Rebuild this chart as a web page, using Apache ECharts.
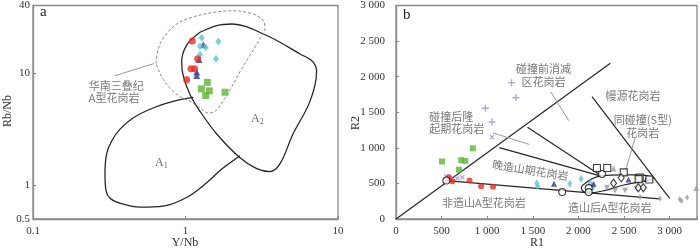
<!DOCTYPE html>
<html><head><meta charset="utf-8">
<script src="https://cdn.jsdelivr.net/npm/echarts@6/dist/echarts.min.js"></script>
<style>html,body{margin:0;padding:0;background:#fff}#c{width:700px;height:248px}</style>
</head><body><div id="c"></div>
<script>
// ---------- Panel a: Y/Nb vs Rb/Nb (log-log) ----------
const aRed   = [[1.108,19.3],[1.202,13.4],[1.087,10.9],[1.146,10.9],[1.018,8.7]];
const aCyan  = [[1.277,20.6],[1.641,19.1],[1.245,17.3],[1.357,16.9],[1.245,14.6],[1.585,13.4]];
const aBlue  = [[1.308,17.9],[1.226,13.2],[1.184,10.2],[1.184,9.5]];
const aGreen = [[1.39,8.26],[1.27,7.23],[1.432,6.94],[1.357,6.31],[1.816,6.75]];
const aFieldA2 = [[1.245,23.1],[1.602,26.5],[2.018,27.35],[3.408,21.6],[5.64,14.8],[6.85,12.58],[7.24,10.27],[6.55,5.59],[5.07,2.86],[4.17,1.556],[3.58,1.323],[2.93,1.406],[2.276,1.758],[1.602,2.86],[1.245,4.56],[1.07,6.44],[0.963,9.66],[0.944,12.58],[1.018,17.76],[1.245,23.1]];
const aFieldA1 = [[1.125,6.06],[0.828,5.59],[0.612,4.88],[0.453,3.98],[0.372,3.165],[0.328,2.48],[0.304,1.906],[0.2965,1.27],[0.301,0.90],[0.32,0.765],[0.372,0.692],[0.503,0.637],[0.712,0.65],[1.023,0.781],[1.384,1.058],[1.683,1.35],[2.049,1.654],[2.276,1.83]];
const aFieldSC = [[0.641,12.15],[0.663,16.47],[0.734,21.62],[0.876,27.35],[1.098,31.33],[1.521,34.68],[2.058,35.9],[2.784,33.5],[3.236,29.3],[3.322,24.7],[3.08,20.18],[2.649,14.41],[2.276,10.27],[1.958,7.08],[1.728,5.40],[1.561,4.56],[1.411,4.405],[1.245,4.88],[1.07,5.59],[0.92,6.18],[0.791,7.32],[0.698,9.28],[0.641,12.15]];
const aLeader = [[0.345,9.47],[0.621,12.15]];
const aXTicks = [0.1, 1, 10];
const aYTicks = [0.5, 1, 10, 40];
const aLabels = [
  {pos:[0.234,6.7], text:'华南三叠纪\nA型花岗岩', align:'left'},
  {pos:[0.70,1.556], text:'{n|A}{s|1}', align:'center'},
  {pos:[2.985,3.88], text:'{n|A}{s|2}', align:'center'}
];

// ---------- Panel b: R1 vs R2 ----------
const bPlus   = [[1267,1916],[1314,1704],[980,1556],[1053,1362]];
const bCross  = [[1053,1150],[552,596],[613,578],[672,572],[726,586]];
const bGreen  = [[505,808],[690,693],[715,827],[759,817],[842,993]];
const bRed    = [[580,585],[617,531],[806,540],[933,461],[1064,453]];
const bCyan   = [[1543,503],[1554,457],[1906,494],[2029,564],[2131,503],[2160,448]];
const bBlue   = [[1732,494],[2167,494],[2548,554],[2748,564]];
const bOpenCircle  = [[552,540],[1822,378],[2113,434],[2113,378],[2258,633]];
const bOpenSquare  = [[2203,716],[2316,716],[2497,655],[2672,582],[2777,554],[2660,560]];
const bOpenDiamond = [[2385,503],[2469,578],[2657,439],[2712,439]];
const bGrayTri  = [[2385,711],[3292,434]];
const bGrayInv  = [[2312,439],[2403,402],[2512,402],[2639,425]];
const bGraySmall = [[2894,287],[3111,277],[3130,254],[3191,301],[2676,309]];
const bLineDiag  = [[0,0],[2350,2190]];
const bLineUpper = [[1441,1289],[2258,600]];
const bLineLower = [[1133,1002],[2258,600]];
const bLineMantle = [[2149,1718],[3000,290]];
const bLineBottom = [[552,540],[2890,282]];
const bEllipse = [[2657,517],[2475,471],[2295,402],[2113,366],[2040,402],[2033,448],[2077,503],[2149,564],[2258,610],[2475,619],[2657,619],[2785,600],[2821,572],[2657,517]];
const bLeaders = [[[1696,1787],[1895,1381]],[[1060,1210],[1459,1049]],[[2621,1140],[2512,655]]];
const bXTicks = [0,500,1000,1500,2000,2500,3000];
const bYTicks = [0,500,1000,1500,2000,2500,3000];
const bLabels = [
  {pos:[1623,2009], text:'碰撞前消减\n区花岗岩', align:'center', rot:0},
  {pos:[2603,1728], text:'幔源花岗岩', align:'center', rot:0},
  {pos:[370,1344], text:'碰撞后隆\n起期花岗岩', align:'left', rot:0},
  {pos:[2712,1296], text:'同碰撞(S型)\n花岗岩', align:'center', rot:0},
  {pos:[1478,679], text:'晚造山期花岗岩', align:'center', rot:-9},
  {pos:[969,216], text:'非造山A型花岗岩', align:'center', rot:0},
  {pos:[2349,148], text:'造山后A型花岗岩', align:'center', rot:0}
];

const SERIF = 'Liberation Serif, Times New Roman, serif';
const CJK = 'Noto Sans CJK SC';
const AX = '#8a8a8a';
const fmtThousand = v => v >= 1000 ? Math.floor(v/1000) + ' ' + String(v % 1000).padStart(3,'0') : String(v);

function axisCommon(margin){
  return {
    axisLine:{show:true, lineStyle:{color:AX, width:1.3}},
    axisTick:{show:true, inside:true, length:3, lineStyle:{color:AX}},
    splitLine:{show:false},
    axisLabel:{color:'#333', fontFamily:SERIF, fontSize:11, margin:margin}
  };
}
function lineS(name, data, xi, opts){
  return Object.assign({type:'line', name, data, xAxisIndex:xi, yAxisIndex:xi, symbol:'none', silent:true,
    lineStyle:{color:'#262626', width:1.2}, z:2}, opts||{});
}
function scat(data, xi, symbol, size, color, extra){
  return Object.assign({type:'scatter', data, xAxisIndex:xi, yAxisIndex:xi, symbol, symbolSize:size,
    itemStyle:{color}, z:5}, extra||{});
}
function labelSeries(list, xi){
  return {type:'scatter', xAxisIndex:xi, yAxisIndex:xi, symbolSize:1, itemStyle:{color:'rgba(0,0,0,0)'}, z:6, silent:true,
    data: list.map(l => ({value:l.pos, label:{show:true, position:[0,0], formatter:l.text, align:l.align, verticalAlign:'middle',
      rotate:l.rot||0, color:'#555', fontFamily:CJK, fontSize:11, lineHeight:12.5,
      rich:{n:{fontFamily:SERIF, fontSize:12, color:'#444'}, s:{fontFamily:SERIF, fontSize:8, color:'#444', padding:[6,0,0,0]}}}}))};
}
const plusPath = 'path://M4,0h2v4h4v2h-4v4h-2v-4h-4v-2h4z';
const openStyle = {itemStyle:{color:'#ffffff', borderColor:'#111', borderWidth:1.1}, z:7};

const chart = echarts.init(document.getElementById('c'), null, {renderer:'canvas'});
chart.setOption({
  animation:false,
  backgroundColor:'#fff',
  grid:[
    {left:33, top:3, width:305, height:216, show:true, borderColor:AX, borderWidth:1.3, containLabel:false},
    {left:396, top:2.5, width:303, height:216.5, show:true, borderColor:AX, borderWidth:1.3, containLabel:false}
  ],
  xAxis:[
    Object.assign({type:'log', gridIndex:0, min:aXTicks[0], max:aXTicks[2], logBase:10}, axisCommon(7),
      {axisLabel:{color:'#333', fontFamily:SERIF, fontSize:11, margin:7, formatter:v=>String(+(+v).toPrecision(2))}}),
    Object.assign({type:'value', gridIndex:1, min:0, max:3300, interval:500}, axisCommon(7),
      {axisLabel:{color:'#333', fontFamily:SERIF, fontSize:11, margin:7, formatter:v=> v>3000?'':fmtThousand(v)}})
  ],
  yAxis:[
    Object.assign({type:'log', gridIndex:0, min:aYTicks[0], max:aYTicks[3], logBase:10}, axisCommon(3),
      {axisLabel:{color:'#333', fontFamily:SERIF, fontSize:11, margin:3, formatter:v=>String(+(+v).toPrecision(2))}}),
    Object.assign({type:'value', gridIndex:1, min:0, max:3000, interval:500}, axisCommon(11),
      {axisLabel:{color:'#333', fontFamily:SERIF, fontSize:11, margin:11, formatter:fmtThousand}})
  ],
  graphic:[
    {type:'text', left:40, top:5, style:{text:'a', font:'15px '+SERIF, fill:'#222'}},
    {type:'text', left:403, top:8, style:{text:'b', font:'15px '+SERIF, fill:'#222'}},
    {type:'text', x:8, y:111, rotation:Math.PI/2, style:{text:'Rb/Nb', font:'12px '+SERIF, fill:'#333', align:'center', verticalAlign:'middle'}},
    {type:'text', x:185, y:243, style:{text:'Y/Nb', font:'12px '+SERIF, fill:'#333', align:'center', verticalAlign:'middle'}},
    {type:'text', x:356, y:123, rotation:Math.PI/2, style:{text:'R2', font:'12px '+SERIF, fill:'#333', align:'center', verticalAlign:'middle'}},
    {type:'text', x:537, y:243, style:{text:'R1', font:'12px '+SERIF, fill:'#333', align:'center', verticalAlign:'middle'}}
  ],
  series:[
    lineS('A2', aFieldA2, 0, {smooth:0.35, lineStyle:{color:'#262626', width:1.3}}),
    lineS('A1', aFieldA1, 0, {smooth:0.35, lineStyle:{color:'#262626', width:1.3}}),
    lineS('SC', aFieldSC, 0, {smooth:0.35, lineStyle:{color:'#8a8a8a', width:1, type:[3,2]}}),
    lineS('leaderA', aLeader, 0, {lineStyle:{color:'#999', width:1}}),
    scat(aGreen, 0, 'rect', 7, '#5db535'),
    scat(aBlue, 0, 'triangle', 7, '#2b3990'),
    scat(aCyan, 0, 'diamond', [6,8], '#5cc6d6'),
    scat(aRed, 0, 'circle', 7, '#ee2a24'),
    labelSeries(aLabels, 0),

    lineS('diag', bLineDiag, 1),
    lineS('upper', bLineUpper, 1),
    lineS('lower', bLineLower, 1),
    lineS('mantle', bLineMantle, 1),
    lineS('bottom', bLineBottom, 1),
    lineS('ellipse', bEllipse, 1, {smooth:0.4}),
    ...bLeaders.map(d => lineS('leader', d, 1, {lineStyle:{color:'#9a9a9a', width:1}})),
    scat(bPlus, 1, plusPath, 7, '#9d8fd3'),
    scat(bCross, 1, plusPath, 6, '#9d8fd3', {symbolRotate:45}),
    scat(bGreen, 1, 'rect', 6, '#5db535'),
    scat(bRed, 1, 'circle', 6, '#ee2a24'),
    scat(bCyan, 1, 'diamond', [5,8], '#5cc6d6'),
    scat(bBlue, 1, 'triangle', 6, '#2b3990'),
    scat(bGrayTri, 1, 'triangle', 6, '#9a9a9a'),
    scat(bGrayInv, 1, 'triangle', 6, '#9a9a9a', {symbolRotate:180}),
    scat(bGraySmall, 1, 'diamond', [4,6], '#9a9a9a'),
    scat(bOpenCircle, 1, 'circle', 7, '#fff', openStyle),
    scat(bOpenSquare, 1, 'rect', 7, '#fff', openStyle),
    scat(bOpenDiamond, 1, 'diamond', [6,8], '#fff', openStyle),
    labelSeries(bLabels, 1)
  ]
});
</script>
</body></html>
